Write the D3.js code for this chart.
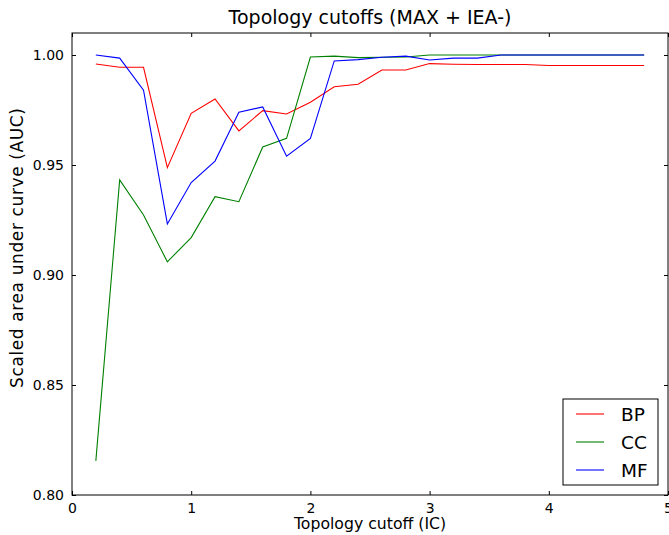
<!DOCTYPE html>
<html>
<head>
<meta charset="utf-8">
<script src="https://cdn.jsdelivr.net/npm/d3@7"></script>
<style>
  html, body { margin: 0; padding: 0; background: #fff; }
  svg { display: block; font-family: "DejaVu Sans", sans-serif; }
</style>
</head>
<body>
<svg id="chart" width="669" height="535"></svg>
<script>
// Topology cutoff values (IC)
const cutoffs = [0.2, 0.4, 0.6, 0.8, 1.0, 1.2, 1.4, 1.6, 1.8, 2.0, 2.2, 2.4,
                 2.6, 2.8, 3.0, 3.2, 3.4, 3.6, 3.8, 4.0, 4.2, 4.4, 4.6, 4.8];

// Scaled AUC per ontology
const bpValues = [0.9959, 0.9944, 0.9944, 0.9488, 0.9735, 0.9800, 0.9655, 0.9747,
                  0.9732, 0.9785, 0.9856, 0.9867, 0.9932, 0.9932, 0.9961, 0.9958,
                  0.9957, 0.9957, 0.9957, 0.9952, 0.9952, 0.9952, 0.9952, 0.9952];
const ccValues = [0.8155, 0.9432, 0.9273, 0.9060, 0.9170, 0.9356, 0.9333, 0.9582,
                  0.9621, 0.9991, 0.9995, 0.9988, 0.9990, 0.9991, 1.0000, 1.0000,
                  1.0000, 1.0000, 1.0000, 1.0000, 1.0000, 1.0000, 1.0000, 1.0000];
const mfValues = [1.0000, 0.9986, 0.9840, 0.9232, 0.9420, 0.9518, 0.9740, 0.9764,
                  0.9540, 0.9621, 0.9973, 0.9979, 0.9990, 0.9995, 0.9977, 0.9986,
                  0.9986, 1.0000, 1.0000, 1.0000, 1.0000, 1.0000, 1.0000, 1.0000];

const seriesNames = ["BP", "CC", "MF"];
const seriesColors = ["#ff0000", "#008000", "#0000ff"];
const xTicks = [0, 1, 2, 3, 4, 5];
const yTicks = [0.80, 0.85, 0.90, 0.95, 1.00];

const series = [bpValues, ccValues, mfValues].map((vals, i) => ({
  name: seriesNames[i],
  color: seriesColors[i],
  points: cutoffs.map((c, j) => [c, vals[j]])
}));

const svg = d3.select("#chart");
const margin = { left: 72, right: 1, top: 33, bottom: 40 };
const W = 669, H = 535;

const x = d3.scaleLinear().domain([0, 5]).range([margin.left, W - margin.right]);
const y = d3.scaleLinear().domain([0.80, 1.01]).range([H - margin.bottom, margin.top]);

// Inward ticks on all four sides
const tickLen = 4;
const axes = [
  { axis: d3.axisBottom(x).tickValues(xTicks).tickFormat(d3.format("d")), t: `translate(0,${y(0.80)})` },
  { axis: d3.axisTop(x).tickValues(xTicks).tickFormat(""), t: `translate(0,${y(1.01)})` },
  { axis: d3.axisLeft(y).tickValues(yTicks).tickFormat(d3.format(".2f")), t: `translate(${x(0)},0)` },
  { axis: d3.axisRight(y).tickValues(yTicks).tickFormat(""), t: `translate(${x(5)},0)` }
];
axes.forEach(a => {
  const g = svg.append("g").attr("transform", a.t)
    .call(a.axis.tickSizeInner(-tickLen).tickSizeOuter(0).tickPadding(8));
  g.select(".domain").remove();
  g.selectAll(".tick line").attr("stroke", "#000").attr("stroke-width", 1);
  g.selectAll(".tick text").attr("fill", "#000").style("font-size", "14px")
    .style("font-family", "'DejaVu Sans', sans-serif");
});

// Data lines
const line = d3.line().x(d => x(d[0])).y(d => y(d[1]));
svg.append("g").selectAll("path").data(series).join("path")
  .attr("d", d => line(d.points))
  .attr("fill", "none")
  .attr("stroke", d => d.color)
  .attr("stroke-width", 1.1);

// Plot frame
svg.append("rect")
  .attr("x", x(0)).attr("y", y(1.01))
  .attr("width", x(5) - x(0)).attr("height", y(0.80) - y(1.01))
  .attr("fill", "none").attr("stroke", "#000").attr("stroke-width", 1);

// Title and axis labels
svg.append("text").attr("x", (x(0) + x(5)) / 2).attr("y", 24)
  .attr("text-anchor", "middle").style("font-size", "19px").text("Topology cutoffs (MAX + IEA-)");
svg.append("text").attr("x", (x(0) + x(5)) / 2).attr("y", 529)
  .attr("text-anchor", "middle").style("font-size", "15.7px").text("Topology cutoff (IC)");
svg.append("text")
  .attr("transform", `translate(23,248) rotate(-90)`)
  .attr("text-anchor", "middle").style("font-size", "17px")
  .attr("textLength", 280).attr("lengthAdjust", "spacing")
  .text("Scaled area under curve (AUC)");

// Legend
const legend = svg.append("g");
legend.append("rect").attr("x", 563).attr("y", 399).attr("width", 95).attr("height", 86)
  .attr("fill", "#fff").attr("stroke", "#000").attr("stroke-width", 1);
series.forEach((s, i) => {
  const ly = 414 + i * 28;
  legend.append("line").attr("x1", 576).attr("x2", 604).attr("y1", ly).attr("y2", ly)
    .attr("stroke", s.color).attr("stroke-width", 1.1);
  legend.append("text").attr("x", 621).attr("y", ly).attr("dy", "0.4em")
    .style("font-size", "18.5px").text(s.name);
});
</script>
</body>
</html>
